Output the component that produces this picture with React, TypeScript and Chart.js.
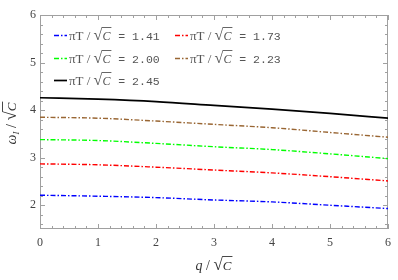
import { useEffect, useRef } from "react";
import { Chart, registerables } from "chart.js";

Chart.register(...registerables);

const qValues = [0, 1, 2, 3, 4, 5, 6];
const tempLabels = ["1.41", "1.73", "2.00", "2.23", "2.45"];
const series141 = [2.21, 2.19, 2.16, 2.11, 2.07, 2.0, 1.93];
const series173 = [2.87, 2.85, 2.8, 2.74, 2.68, 2.6, 2.51];
const series200 = [3.38, 3.36, 3.3, 3.23, 3.17, 3.08, 2.98];
const series223 = [3.85, 3.83, 3.77, 3.7, 3.63, 3.53, 3.43];
const series245 = [4.26, 4.23, 4.18, 4.1, 4.02, 3.93, 3.83];
const xTicks = [0, 1, 2, 3, 4, 5, 6];
const yTicks = [2, 3, 4, 5, 6];

const SERIF = '"Liberation Serif", "DejaVu Serif", serif';
const MONO = '"Liberation Mono", "DejaVu Sans Mono", monospace';

type Seg = { t: string; font: string; dy?: number; sqrt?: boolean; rfont?: string };

function drawSegs(ctx: CanvasRenderingContext2D, x: number, y: number, segs: Seg[], color: string, measureOnly = false) {
  let cx = x;
  ctx.fillStyle = color;
  ctx.strokeStyle = color;
  for (const s of segs) {
    if (s.sqrt) {
      ctx.font = s.rfont || s.font;
      const rm = ctx.measureText("\u221A");
      const asc = rm.actualBoundingBoxAscent;
      if (!measureOnly) ctx.fillText("\u221A", cx, y);
      cx += rm.width;
      ctx.font = s.font;
      const w = ctx.measureText(s.t).width;
      if (!measureOnly) {
        ctx.fillText(s.t, cx, y);
        ctx.lineWidth = 0.9;
        ctx.beginPath();
        ctx.moveTo(cx - 0.5, y - asc + 0.5);
        ctx.lineTo(cx + w + 1, y - asc + 0.5);
        ctx.stroke();
      }
      cx += w + 1;
    } else {
      ctx.font = s.font;
      if (!measureOnly) ctx.fillText(s.t, cx, y + (s.dy || 0));
      cx += ctx.measureText(s.t).width;
    }
  }
  return cx - x;
}

const frameTicksPlugin = {
  id: "frameTicks",
  beforeDatasetsDraw(chart: any) {
    const { ctx, chartArea: a, scales } = chart;
    const xs = scales.x;
    const ys = scales.y;
    ctx.save();
    ctx.strokeStyle = "#a0a0a0";
    ctx.lineWidth = 1;
    ctx.strokeRect(a.left + 0.5, a.top + 0.5, a.right - a.left - 1, a.bottom - a.top - 1);
    ctx.beginPath();
    for (let i = 0; i <= 30; i++) {
      const v = i * 0.2;
      const px = Math.round(xs.getPixelForValue(v)) + 0.5;
      const len = i % 5 === 0 ? 5 : 3;
      ctx.moveTo(px, a.bottom);
      ctx.lineTo(px, a.bottom - len);
      ctx.moveTo(px, a.top);
      ctx.lineTo(px, a.top + len);
    }
    for (let i = 8; i <= 30; i++) {
      const v = i * 0.2;
      const py = Math.round(ys.getPixelForValue(v)) + 0.5;
      const len = i % 5 === 0 ? 5 : 3;
      ctx.moveTo(a.left, py);
      ctx.lineTo(a.left + len, py);
      ctx.moveTo(a.right, py);
      ctx.lineTo(a.right - len, py);
    }
    ctx.stroke();
    ctx.restore();
  },
  afterDraw(chart: any) {
    const { ctx, chartArea: a } = chart;
    ctx.save();
    const col = "#333";
    // x title
    const xsegs: Seg[] = [
      { t: "q", font: `italic 14px ${SERIF}` },
      { t: " / ", font: `14px ${SERIF}` },
      { t: "C", font: `italic 13px ${SERIF}`, sqrt: true, rfont: `17px ${SERIF}` },
    ];
    const xw = drawSegs(ctx, 0, 0, xsegs, col, true);
    drawSegs(ctx, (a.left + a.right) / 2 - xw / 2, 270, xsegs, col);
    // y title
    const ysegs: Seg[] = [
      { t: "\u03C9", font: `italic 14px ${SERIF}` },
      { t: "I", font: `italic 9px ${SERIF}`, dy: 3 },
      { t: " / ", font: `14px ${SERIF}` },
      { t: "C", font: `italic 13px ${SERIF}`, sqrt: true, rfont: `17px ${SERIF}` },
    ];
    const yw = drawSegs(ctx, 0, 0, ysegs, col, true);
    ctx.translate(16, 123);
    ctx.rotate(-Math.PI / 2);
    drawSegs(ctx, -yw / 2, 0, ysegs, col);
    ctx.restore();

    // legend
    ctx.save();
    const cols = [a.left + 14, a.left + 135];
    const rows = [a.top + 20, a.top + 43, a.top + 65];
    chart.data.datasets.forEach((ds: any, i: number) => {
      const x = cols[i % 2];
      const y = rows[Math.floor(i / 2)];
      ctx.strokeStyle = ds.borderColor;
      ctx.lineWidth = ds.borderWidth;
      ctx.setLineDash(ds.borderDash || []);
      ctx.beginPath();
      ctx.moveTo(x, y + 0.5);
      ctx.lineTo(x + 13, y + 0.5);
      ctx.stroke();
      ctx.setLineDash([]);
      const segs: Seg[] = [
        { t: "\u03C0T", font: `13px ${SERIF}` },
        { t: " / ", font: `13px ${SERIF}` },
        { t: "C", font: `italic 12px ${SERIF}`, sqrt: true, rfont: `16px ${SERIF}` },
        { t: " = " + tempLabels[i], font: `11.5px ${MONO}` },
      ];
      drawSegs(ctx, x + 15, y + 5, segs, "#555");
    });
    ctx.restore();
  },
};

function makeData(vals: number[]) {
  return qValues.map((q, i) => ({ x: q, y: vals[i] }));
}

export default function App() {
  const ref = useRef<HTMLCanvasElement | null>(null);
  useEffect(() => {
    document.body.style.margin = "0";
    if (!ref.current) return;
    const dashed = [5, 2, 1.5, 2];
    const chart = new Chart(ref.current, {
      type: "line",
      data: {
        datasets: [
          { label: "πT/√C = " + tempLabels[0], data: makeData(series141), borderColor: "#0000ff", borderWidth: 1.4, borderDash: dashed },
          { label: "πT/√C = " + tempLabels[1], data: makeData(series173), borderColor: "#ff0000", borderWidth: 1.4, borderDash: dashed },
          { label: "πT/√C = " + tempLabels[2], data: makeData(series200), borderColor: "#00ff00", borderWidth: 1.4, borderDash: dashed },
          { label: "πT/√C = " + tempLabels[3], data: makeData(series223), borderColor: "#996633", borderWidth: 1.4, borderDash: dashed },
          { label: "πT/√C = " + tempLabels[4], data: makeData(series245), borderColor: "#000000", borderWidth: 1.7 },
        ].map((d) => ({ ...d, pointRadius: 0, fill: false, cubicInterpolationMode: "monotone" as const })),
      },
      options: {
        animation: false,
        responsive: true,
        maintainAspectRatio: false,
        layout: { padding: { top: 15, right: 10, left: 0, bottom: 0 } },
        plugins: { legend: { display: false }, tooltip: { enabled: false } },
        scales: {
          x: {
            type: "linear",
            min: 0,
            max: 6,
            afterBuildTicks: (s: any) => {
              s.ticks = xTicks.map((v) => ({ value: v }));
            },
            afterFit: (s: any) => {
              s.height = 51;
            },
            ticks: { font: { family: SERIF, size: 12 }, color: "#444", padding: 7, maxRotation: 0, autoSkip: false },
            grid: { display: false, drawTicks: false },
            border: { display: false },
          },
          y: {
            type: "linear",
            min: 1.5,
            max: 6,
            afterBuildTicks: (s: any) => {
              s.ticks = yTicks.map((v) => ({ value: v }));
            },
            afterFit: (s: any) => {
              s.width = 40;
            },
            ticks: { font: { family: SERIF, size: 12 }, color: "#444", padding: 4, autoSkip: false },
            grid: { display: false, drawTicks: false },
            border: { display: false },
          },
        },
      },
      plugins: [frameTicksPlugin],
    });
    return () => chart.destroy();
  }, []);
  return (
    <div style={{ width: 398, height: 280, position: "relative" }}>
      <canvas ref={ref} />
    </div>
  );
}
